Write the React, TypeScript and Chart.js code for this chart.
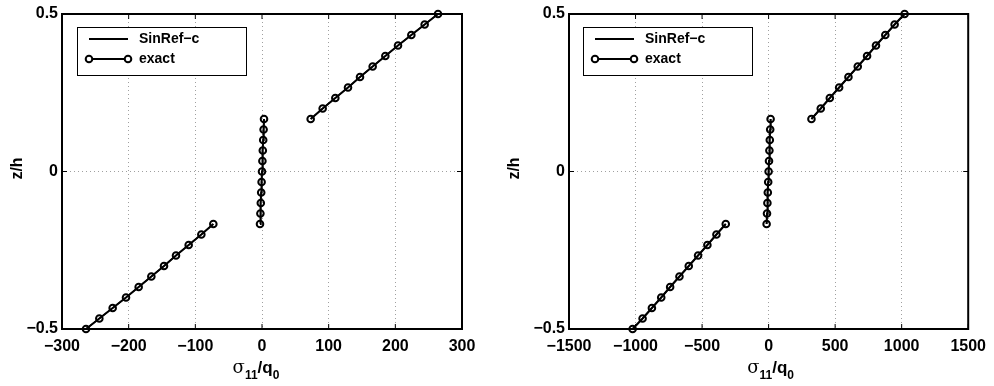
import React, { useEffect, useRef } from "react";
import { Chart, registerables } from "chart.js";
Chart.register(...registerables);

const FONT = '"Liberation Sans", Arial, Helvetica, sans-serif';

// z/h positions of the points in each layer
const zBottom = [-0.5, -0.4667, -0.4333, -0.4, -0.3667, -0.3333, -0.3, -0.2667, -0.2333, -0.2, -0.1667];
const zMiddle = [-0.1667, -0.1333, -0.1, -0.0667, -0.0333, 0, 0.0333, 0.0667, 0.1, 0.1333, 0.1667];
const zTop = [0.1667, 0.2, 0.2333, 0.2667, 0.3, 0.3333, 0.3667, 0.4, 0.4333, 0.4667, 0.5];

// Left panel: sigma_11/q_0
const leftBottom = [-264, -244, -224, -204, -185, -166, -147, -129, -110, -91, -73];
const leftMiddle = [-3, -2.4, -1.8, -1.2, -0.6, 0, 0.6, 1.2, 1.8, 2.4, 3];
const leftTop = [73, 91, 110, 129, 147, 166, 185, 204, 224, 244, 264];

// Right panel: sigma_11/q_0
const rightBottom = [-1022, -947, -877, -807, -740, -670, -600, -530, -460, -392, -322];
const rightMiddle = [-15, -12, -9, -6, -3, 0, 3, 6, 9, 12, 15];
const rightTop = [322, 392, 460, 530, 600, 670, 740, 807, 877, 947, 1022];

const leftXTicks = [-300, -200, -100, 0, 100, 200, 300];
const rightXTicks = [-1500, -1000, -500, 0, 500, 1000, 1500];
const yTicks = [-0.5, 0, 0.5];

const seriesNames = ["SinRef\u2212c", "exact"];

const fmt = (v: number) => String(v).replace("-", "\u2212");

function pts(xs: number[], zs: number[]) {
  return xs.map((x, i) => ({ x, y: zs[i] }));
}

const framePlugin = {
  id: "frame",
  afterDraw(chart: any, _args: any, opts: any) {
    const { ctx, chartArea: a, scales } = chart;
    ctx.save();
    ctx.strokeStyle = "#000";
    ctx.lineWidth = 1;
    const line = (x1: number, y1: number, x2: number, y2: number) => {
      ctx.beginPath();
      ctx.moveTo(x1, y1);
      ctx.lineTo(x2, y2);
      ctx.stroke();
    };
    // inward ticks
    scales.x.ticks.forEach((t: any) => {
      const p = scales.x.getPixelForValue(t.value);
      line(p, a.bottom, p, a.bottom - 5);
      line(p, a.top, p, a.top + 5);
    });
    scales.y.ticks.forEach((t: any) => {
      const p = scales.y.getPixelForValue(t.value);
      line(a.left, p, a.left + 5, p);
      line(a.right, p, a.right - 5, p);
    });
    // frame
    ctx.lineWidth = 2;
    ctx.strokeRect(a.left, a.top, a.right - a.left, a.bottom - a.top);

    // legend
    const lx = a.left + opts.legendDx;
    const ly = a.top + 13;
    ctx.fillStyle = "#fff";
    ctx.fillRect(lx, ly, 169, 48);
    ctx.lineWidth = 1;
    ctx.strokeStyle = "#000";
    ctx.strokeRect(lx + 0.5, ly + 0.5, 169, 48);
    ctx.lineWidth = 2;
    const y1 = ly + 12;
    const y2 = ly + 32;
    line(lx + 12, y1, lx + 51, y1);
    line(lx + 12, y2, lx + 51, y2);
    ctx.lineWidth = 2;
    [lx + 12, lx + 51].forEach((cx) => {
      ctx.beginPath();
      ctx.arc(cx, y2, 3.3, 0, Math.PI * 2);
      ctx.fillStyle = "#fff";
      ctx.fill();
      ctx.stroke();
    });
    ctx.fillStyle = "#000";
    ctx.font = `bold 14px ${FONT}`;
    ctx.textBaseline = "middle";
    ctx.textAlign = "left";
    ctx.fillText(seriesNames[0], lx + 62, y1);
    ctx.fillText(seriesNames[1], lx + 62, y2);

    // y title
    ctx.save();
    ctx.translate(18, (a.top + a.bottom) / 2 - 3);
    ctx.rotate(-Math.PI / 2);
    ctx.textAlign = "center";
    ctx.font = `bold 16px ${FONT}`;
    ctx.fillText("z/h", 0, 0);
    ctx.restore();

    // x title with subscripts
    const parts = [
      { t: "\u03c3", f: `18px "DejaVu Serif", serif`, dy: 0 },
      { t: "11", f: `bold 12px ${FONT}`, dy: 6 },
      { t: "/q", f: `bold 17px ${FONT}`, dy: 0 },
      { t: "0", f: `bold 12px ${FONT}`, dy: 6 },
    ];
    let total = 0;
    parts.forEach((p) => {
      ctx.font = p.f;
      total += ctx.measureText(p.t).width;
    });
    let x = (a.left + a.right) / 2 + opts.titleDx - total / 2;
    const base = 373;
    ctx.textBaseline = "alphabetic";
    parts.forEach((p) => {
      ctx.font = p.f;
      ctx.fillText(p.t, x, base + p.dy);
      x += ctx.measureText(p.t).width;
    });
    ctx.restore();
  },
};

function buildConfig(
  xs: number[][],
  xTicks: number[],
  yWidth: number,
  padRight: number,
  legendDx: number,
  titleDx: number
): any {
  const zs = [zBottom, zMiddle, zTop];
  const datasets: any[] = [];
  xs.forEach((seg, i) => {
    datasets.push({
      label: seriesNames[0],
      data: pts(seg, zs[i]),
      borderColor: "#000",
      borderWidth: 2,
      pointRadius: 0,
      showLine: true,
      clip: false,
    });
    datasets.push({
      label: seriesNames[1],
      data: pts(seg, zs[i]),
      borderColor: "#000",
      borderWidth: 1.5,
      pointRadius: 3.3,
      pointBorderWidth: 2,
      pointBorderColor: "#000",
      pointBackgroundColor: "rgba(255,255,255,0)",
      showLine: true,
      clip: false,
    });
  });
  return {
    type: "scatter",
    data: { datasets },
    options: {
      animation: false,
      responsive: false,
      maintainAspectRatio: false,
      layout: { padding: { left: 0, top: 14, right: padRight, bottom: 0 } },
      plugins: {
        legend: { display: false },
        tooltip: { enabled: false },
        frame: { legendDx, titleDx },
      },
      scales: {
        x: {
          type: "linear",
          min: xTicks[0],
          max: xTicks[xTicks.length - 1],
          afterBuildTicks: (s: any) => {
            s.ticks = xTicks.map((v) => ({ value: v }));
          },
          afterFit: (s: any) => {
            s.height = 57;
          },
          ticks: {
            callback: (v: any) => fmt(Number(v)),
            font: { family: FONT, size: 16, weight: "bold" },
            color: "#000",
            padding: 8,
            maxRotation: 0,
            autoSkip: false,
          },
          grid: { color: "#a0a0a0", lineWidth: 1, drawTicks: false },
          border: { display: false, dash: [1, 3] },
        },
        y: {
          type: "linear",
          min: -0.5,
          max: 0.5,
          afterBuildTicks: (s: any) => {
            s.ticks = yTicks.map((v) => ({ value: v }));
          },
          afterFit: (s: any) => {
            s.width = yWidth;
          },
          ticks: {
            callback: (v: any) => fmt(Number(v)),
            font: { family: FONT, size: 16, weight: "bold" },
            color: "#000",
            padding: 4,
            autoSkip: false,
          },
          grid: { color: "#a0a0a0", lineWidth: 1, drawTicks: false },
          border: { display: false, dash: [1, 3] },
        },
      },
    },
    plugins: [framePlugin],
  };
}

function Panel(props: { cfg: () => any; left: number }) {
  const ref = useRef<HTMLCanvasElement | null>(null);
  useEffect(() => {
    if (!ref.current) return;
    const chart = new Chart(ref.current, props.cfg());
    return () => chart.destroy();
  }, []);
  return (
    <canvas
      ref={ref}
      width={497}
      height={386}
      style={{ position: "absolute", left: props.left, top: 0, width: 497, height: 386 }}
    />
  );
}

export default function App() {
  return (
    <div style={{ position: "absolute", left: 0, top: 0, width: 994, height: 386, background: "#fff" }}>
      <Panel
        left={0}
        cfg={() => buildConfig([leftBottom, leftMiddle, leftTop], leftXTicks, 62, 35, 15, -6)}
      />
      <Panel
        left={497}
        cfg={() => buildConfig([rightBottom, rightMiddle, rightTop], rightXTicks, 72, 25, 14, 2)}
      />
    </div>
  );
}
